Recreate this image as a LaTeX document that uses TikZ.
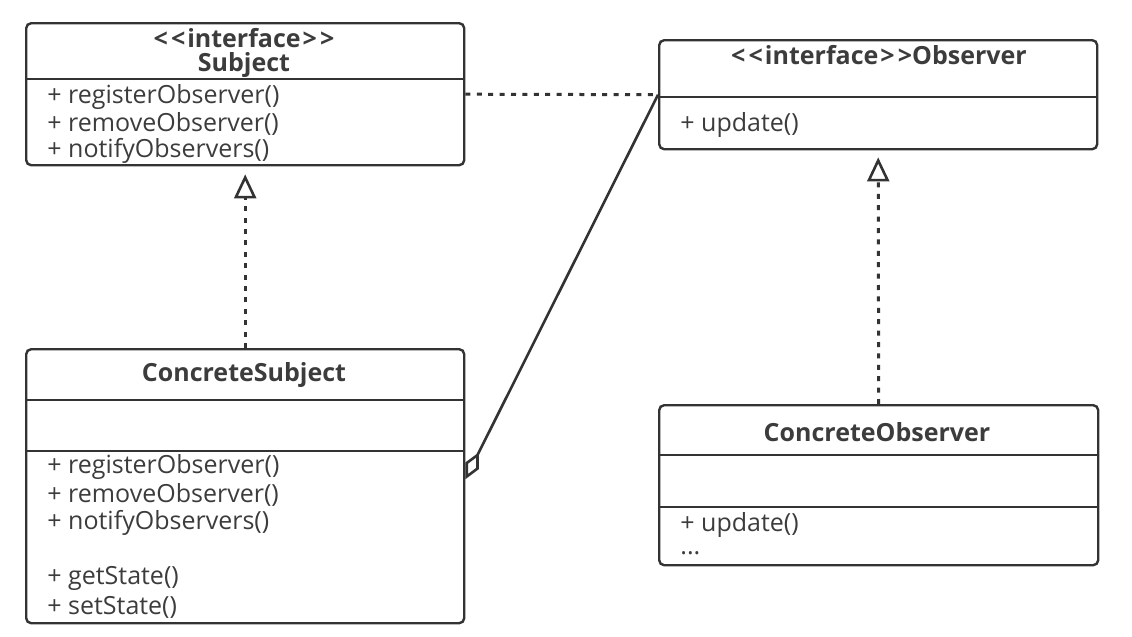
\documentclass[tikz,border=0pt]{standalone}
\usepackage{fontspec}
\setmainfont{Open Sans}
\usetikzlibrary{arrows.meta}
\definecolor{umlline}{HTML}{333333}
\definecolor{umltext}{HTML}{3C3C3C}
\newcommand{\stereo}[1]{<\kern1.6pt<\kern1pt#1\kern1pt>\kern1.6pt>}
\tikzset{
  classbox/.style={draw=umlline,line width=1.2pt,rounded corners=2.5pt,
    anchor=north west,inner sep=0pt},
  divider/.style={umlline,line width=1.2pt},
  member/.style={anchor=west,inner sep=0pt,text=umltext,
    font=\fontsize{12.5}{15}\selectfont},
  classname/.style={inner sep=0pt,text=umltext,
    font=\fontsize{12.5}{15}\selectfont\bfseries},
  dotline/.style={umlline,line width=1.5pt,dash pattern=on 2.5pt off 3.2pt},
  realize/.style={dotline,-{Triangle[open,length=12pt,width=11pt,line width=1.3pt]}},
  aggregate/.style={umlline,line width=1.3pt,
    -{Diamond[open,length=15pt,width=7.5pt,line width=1.3pt]}}
}
\begin{document}
\begin{tikzpicture}[x=0.5pt,y=-0.5pt]
  \useasboundingbox (0,0) rectangle (1132,637);
  % interface Subject
  \node[classbox,minimum width=219pt,minimum height=71pt] (subj) at (25,22) {};
  \draw[divider] (25,79) -- (463,79);
  \node[classname] (subjstereo) at (244,38) {\stereo{interface}};
  \node[classname] (subjname) at (244,65) {Subject};
  \node[member] (subjm1) at (47,97) {+ registerObserver()};
  \node[member] (subjm2) at (47,124) {+ removeObserver()};
  \node[member] (subjm3) at (47,151) {+ notifyObservers()};
  % interface Observer
  \node[classbox,minimum width=219pt,minimum height=54.5pt] (obs) at (658,39) {};
  \draw[divider] (658,97) -- (1096,97);
  \node[classname] (obsname) at (879,55) {\stereo{interface}Observer};
  \node[member] (obsm1) at (680,125) {+ update()};
  % ConcreteSubject
  \node[classbox,minimum width=219pt,minimum height=137pt] (csubj) at (25,348) {};
  \draw[divider] (25,400) -- (463,400);
  \draw[divider] (25,451) -- (463,451);
  \node[classname] (csubjname) at (244,375) {ConcreteSubject};
  \node[member] (csubjm1) at (47,467) {+ registerObserver()};
  \node[member] (csubjm2) at (47,495) {+ removeObserver()};
  \node[member] (csubjm3) at (47,523) {+ notifyObservers()};
  \node[member] (csubjm4) at (47,578) {+ getState()};
  \node[member] (csubjm5) at (47,607) {+ setState()};
  % ConcreteObserver
  \node[classbox,minimum width=219.5pt,minimum height=80pt] (cobs) at (658,404) {};
  \draw[divider] (658,455) -- (1097,455);
  \draw[divider] (658,507) -- (1097,507);
  \node[classname] (cobsname) at (877,432) {ConcreteObserver};
  \node[member] (cobsm1) at (680,525) {+ update()};
  \node[member] (cobsm2) at (680,553) {...};
  % relations
  \draw[dotline] (subj.east) -- (obs.west);
  \draw[aggregate] (obs.west) -- ([yshift=3.5pt]csubj.east);
  \draw[realize] (csubj.north) -- ([yshift=-4pt]subj.south);
  \draw[realize] (cobs.north) -- ([yshift=-3.5pt]obs.south);
\end{tikzpicture}
\end{document}
